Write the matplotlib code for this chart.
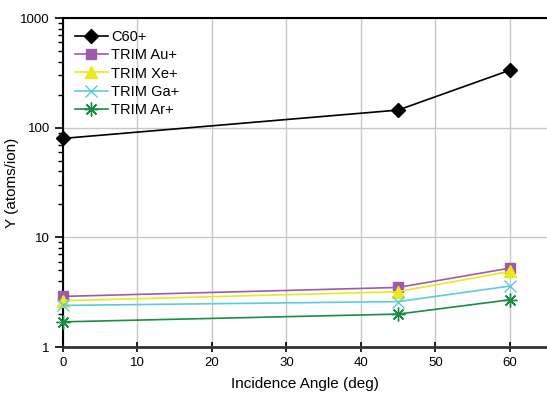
import matplotlib

matplotlib.use("Agg")
import matplotlib.pyplot as plt
from matplotlib.ticker import LogLocator, NullFormatter, FixedLocator

plt.rcParams.update({"font.family": ["Liberation Sans", "DejaVu Sans"], "font.size": 9.5})

angles = [0, 45, 60]
c60 = [80, 145, 335]
trim_au = [2.9, 3.5, 5.25]
trim_xe = [2.65, 3.2, 4.9]
trim_ga = [2.4, 2.6, 3.6]
trim_ar = [1.7, 2.0, 2.7]

series = [
    ("C60+", c60, "black", "D", 7, "black"),
    ("TRIM Au+", trim_au, "#a05aac", "s", 7, "#a05aac"),
    ("TRIM Xe+", trim_xe, "#ece81a", "^", 8, "#ece81a"),
    ("TRIM Ga+", trim_ga, "#5ccbe0", "x", 9, "#5ccbe0"),
    ("TRIM Ar+", trim_ar, "#1a8c44", (8, 2, 0), 10, "#1a8c44"),
]

fig = plt.figure(figsize=(5.47, 3.94), dpi=100)
ax = fig.add_axes([0.115, 0.119, 0.885, 0.835])

for label, vals, col, mk, ms, mec in series:
    ax.plot(angles, vals, color=col, lw=1.2, marker=mk, ms=ms, mec=mec, mfc=col,
            mew=1.0, label=label, clip_on=False, zorder=3)

ax.set_yscale("log")
ax.set_ylim(1, 1000)
ax.set_xlim(0, 65)
ax.xaxis.set_major_locator(FixedLocator([0, 10, 20, 30, 40, 50, 60]))
ax.yaxis.set_major_locator(FixedLocator([1, 10, 100, 1000]))
ax.set_yticklabels(["1", "10", "100", "1000"])
ax.yaxis.set_minor_locator(LogLocator(base=10, subs=range(2, 10)))
ax.yaxis.set_minor_formatter(NullFormatter())
ax.grid(True, which="major", color="#c8c8c8", lw=1.0)
ax.set_axisbelow(True)

ax.spines["right"].set_visible(False)
ax.spines["left"].set_linewidth(1.5)
ax.spines["top"].set_linewidth(1.5)
ax.spines["bottom"].set_linewidth(2.0)
ax.spines["bottom"].set_color("#333333")
ax.tick_params(axis="x", direction="inout", length=7, width=1.2)
ax.tick_params(axis="y", which="major", direction="out", length=6, width=1.2)
ax.tick_params(axis="y", which="minor", direction="out", length=3.5, width=1.0)

ax.set_xlabel("Incidence Angle (deg)", fontsize=11)
ax.set_ylabel("Y (atoms/ion)", fontsize=11)
ax.xaxis.set_label_coords(0.5, -0.09, transform=ax.transAxes)
ax.yaxis.set_label_coords(-0.105, 0.5, transform=ax.transAxes)
ax.xaxis.label.set_va("top")
ax.yaxis.label.set_va("center")

ax.legend(loc="upper left", frameon=False, fontsize=10.5, handlelength=2.3,
          labelspacing=0.3, borderaxespad=0.4, handletextpad=0.2)

fig.savefig("out.png", dpi=100)
